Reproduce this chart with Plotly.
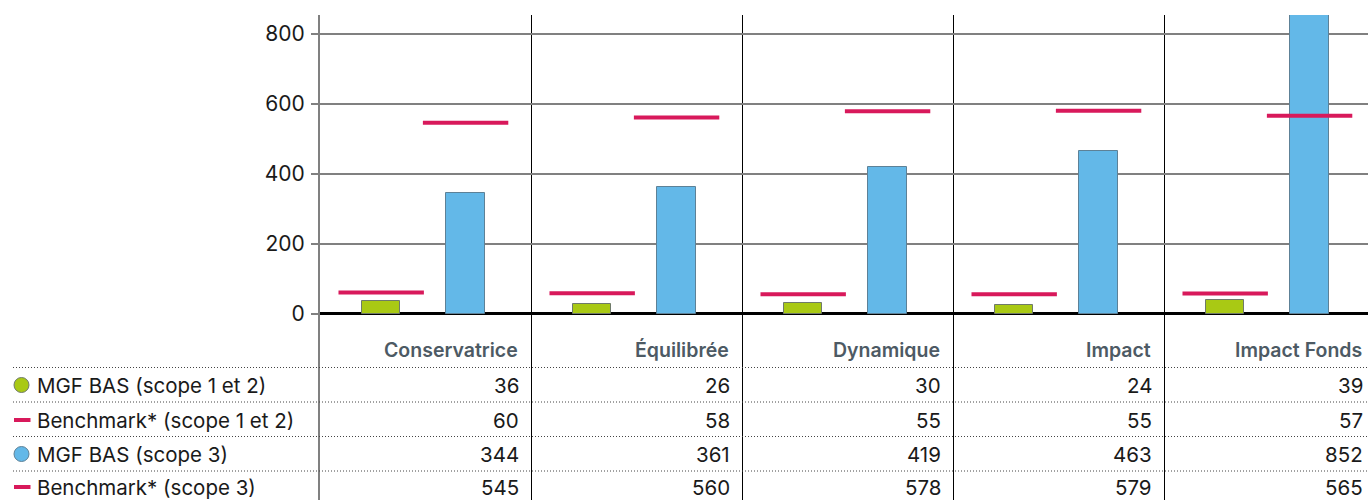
import plotly.graph_objects as go

# Portfolio categories and carbon intensity values
categories = ["Conservatrice", "Équilibrée", "Dynamique", "Impact", "Impact Fonds"]
series_names = [
    "MGF BAS (scope 1 et 2)",
    "Benchmark* (scope 1 et 2)",
    "MGF BAS (scope 3)",
    "Benchmark* (scope 3)",
]
mgf_scope12 = [36, 26, 30, 24, 39]
bench_scope12 = [60, 58, 55, 55, 57]
mgf_scope3 = [344, 361, 419, 463, 852]
bench_scope3 = [545, 560, 578, 579, 565]
y_ticks = [0, 200, 400, 600, 800]

GREEN = "#a9c914"
BLUE = "#63b8e8"
PINK = "#d8195b"
FONT = "Inter"

W, H = 1368, 500
ML, MT = 320, 15
COL_PX = 211.0                      # width of one category column
PLOT_W = W - ML
PLOT_H = H - MT
OFF_12, OFF_3 = 0.29, 0.69          # bar centres inside a column
BAR_W = 38.5 / COL_PX

x12 = [i + OFF_12 for i in range(len(categories))]
x3 = [i + OFF_3 for i in range(len(categories))]

fig = go.Figure()
fig.add_trace(go.Bar(x=x12, y=mgf_scope12, width=BAR_W, name=series_names[0],
                     marker=dict(color=GREEN, line=dict(color="#6f7a6a", width=1))))
fig.add_trace(go.Bar(x=x3, y=mgf_scope3, width=BAR_W, name=series_names[2],
                     marker=dict(color=BLUE, line=dict(color="#5d8197", width=1))))
fig.add_trace(go.Scatter(x=x12, y=bench_scope12, mode="markers", name=series_names[1],
                         marker=dict(symbol="line-ew", size=61, line=dict(color=PINK, width=4))))
fig.add_trace(go.Scatter(x=x3, y=bench_scope3, mode="markers", name=series_names[3],
                         marker=dict(symbol="line-ew", size=61, line=dict(color=PINK, width=4))))

# y scale: 0.35 px per unit, extended below zero to host the data table
px_per_unit = 0.35
y_top = (313.5 - MT) / px_per_unit
y_bot = -(H - 313.5) / px_per_unit


def ypaper(py):
    return (H - py) / PLOT_H


def xpaper(px):
    return (px - ML) / PLOT_W


def col_right(i):
    # right edge of column i, in paper units (may lie past the visible plot)
    return (i + 1) * COL_PX / PLOT_W


shapes = []
annotations = []

# dotted row separators
for py in [367.5, 402, 436.5, 471]:
    shapes.append(dict(type="line", xref="paper", yref="paper",
                       x0=xpaper(13), x1=1.0, y0=ypaper(py), y1=ypaper(py),
                       line=dict(color="#444444", width=1, dash="1px,2px")))

# column headers
for i, c in enumerate(categories):
    annotations.append(dict(xref="paper", yref="paper", x=col_right(i), y=ypaper(350),
                            text=c, showarrow=False, xanchor="right", yanchor="middle",
                            xshift=-11,
                            font=dict(family=FONT, size=19.5, color="#4d5a64", weight=600)))

rows = [mgf_scope12, bench_scope12, mgf_scope3, bench_scope3]
row_py = [385, 420, 454, 487]
for name, vals, py in zip(series_names, rows, row_py):
    annotations.append(dict(xref="paper", yref="paper", x=xpaper(35), y=ypaper(py),
                            text=name, showarrow=False, xanchor="left", yanchor="middle",
                            font=dict(family=FONT, size=20.5, color="#1a1a1a")))
    for i, v in enumerate(vals):
        annotations.append(dict(xref="paper", yref="paper", x=col_right(i), y=ypaper(py),
                                text=str(v), showarrow=False, xanchor="right",
                                yanchor="middle", xshift=-10,
                                font=dict(family=FONT, size=20.5, color="#1a1a1a")))

# legend keys in the table
for py, color, edge in [(385, GREEN, "#6f7a6a"), (454, BLUE, "#5d8197")]:
    shapes.append(dict(type="circle", xref="paper", yref="paper",
                       x0=xpaper(14), x1=xpaper(29), y0=ypaper(py + 7.5), y1=ypaper(py - 7.5),
                       fillcolor=color, line=dict(color=edge, width=1)))
for py in [420, 487]:
    shapes.append(dict(type="line", xref="paper", yref="paper",
                       x0=xpaper(14), x1=xpaper(30.5), y0=ypaper(py), y1=ypaper(py),
                       line=dict(color=PINK, width=4)))

fig.update_layout(
    width=W, height=H,
    margin=dict(l=ML, r=0, t=MT, b=0),
    plot_bgcolor="white", paper_bgcolor="white",
    showlegend=False,
    bargap=0,
    font=dict(family=FONT, size=20.5, color="#1a1a1a"),
    shapes=shapes,
    annotations=annotations,
    xaxis=dict(range=[0, PLOT_W / COL_PX], tickvals=[1, 2, 3, 4],
               showticklabels=False, ticks="", showgrid=True,
               gridcolor="#000000", gridwidth=1, zeroline=False, showline=False),
    yaxis=dict(range=[y_bot, y_top], tickvals=y_ticks, ticktext=[str(t) for t in y_ticks],
               showgrid=True, gridcolor="#808080", gridwidth=2,
               ticks="outside", ticklen=7, tickcolor="#808080", tickwidth=2,
               ticklabelstandoff=2,
               zeroline=True, zerolinecolor="#000000", zerolinewidth=3,
               showline=True, linecolor="#808080", linewidth=2,
               tickfont=dict(family=FONT, size=21, color="#1a1a1a")),
)

fig.write_html("out.html")
